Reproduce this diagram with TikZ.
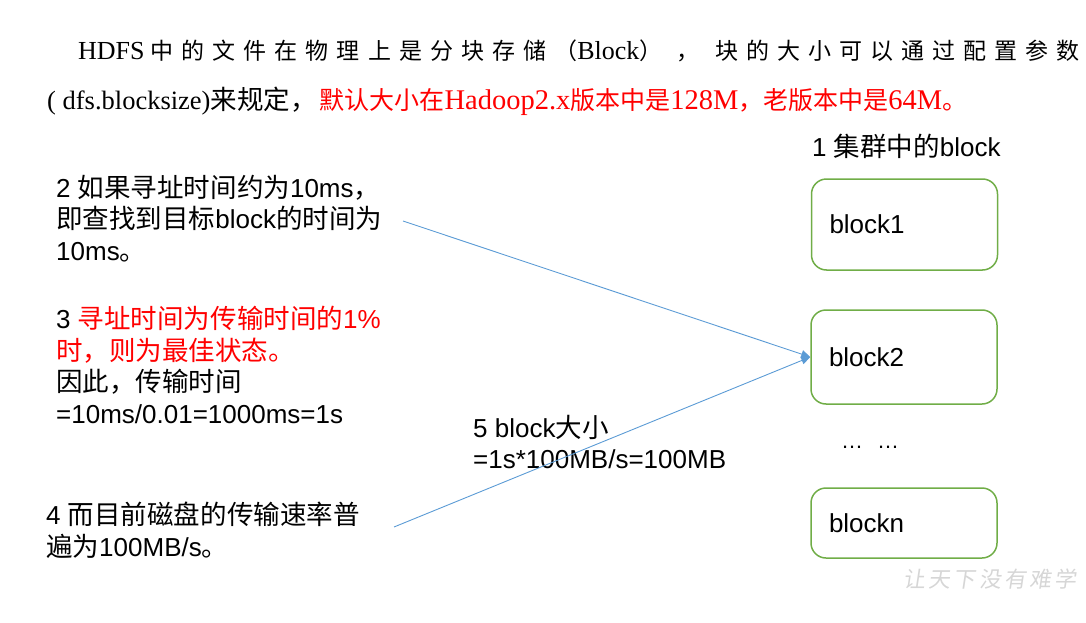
\documentclass[tikz,border=0pt]{standalone}
\usepackage{fontspec}
\setmainfont{Liberation Sans}
\newfontfamily\zh[Scale=1.02]{Noto Sans CJK SC}
\newfontfamily\hdserif{Liberation Serif}
\newfontfamily\hdzh[LetterSpace=35]{Noto Sans CJK SC}
\newfontfamily\wmfont[FakeSlant=0.15,LetterSpace=15]{Noto Sans CJK SC}
\usetikzlibrary{arrows.meta}
\definecolor{blkgreen}{HTML}{70AD47}
\definecolor{linkblue}{HTML}{5B9BD5}
\definecolor{hlred}{HTML}{FF0000}
\definecolor{wmgray}{HTML}{D6D6D6}
\newcommand\bodyfont{\fontsize{26}{31.5}\selectfont}
% heading fonts: spaced CJK, serif Latin, plain CJK
\newcommand\hzw{\hdzh\fontsize{23}{30}\selectfont}
\newcommand\hla[1]{\hdserif\fontsize{#1}{30}\selectfont}
\newcommand\hzn[1]{\zh\fontsize{#1}{30}\selectfont}
\tikzset{
  txt/.style={anchor=north west, inner sep=0pt, align=left, font=\bodyfont},
  hdline/.style={anchor=base west, inner sep=0pt, font=\fontsize{26}{30}\selectfont},
  blk/.style={draw=blkgreen, line width=1.5pt, rounded corners=15pt,
    text width=150pt, inner xsep=18pt, inner ysep=0pt, align=left, font=\bodyfont},
  conn/.style={draw=linkblue, line width=0.9pt, -{Triangle[length=9pt,width=8pt]}},
}
\begin{document}
\begin{tikzpicture}[x=1pt, y=-1pt]
  \useasboundingbox (0,0) rectangle (1086,623);

  % heading paragraph
  \node[hdline] (h1) at (78,60)
    {{\hla{26}HDFS}\hspace{6pt}{\hzw 中的文件在物理上是分块存储（}{\hla{26}Block}{\hzw ）}\hspace{14pt}{\hzw ，}\hspace{16pt}{\hzw 块的大小可以通过配置参数}};
  \node[hdline] (h2) at (47,110)
    {{\hla{26.5}( dfs.blocksize)}{\hzn{26}来规定，}\hspace{3pt}\textcolor{hlred}{{\hzn{24.5}默认大小在}{\hla{28.5}Hadoop2.x}{\hzn{24.5}版本中是}{\hla{28.5}128M}{\hzn{24.5}，老版本中是}{\hla{28.5}64M}{\hzn{24.5}。}}};

  % left column notes
  \node[txt] (t2) at (56,175)
    {2 {\zh 如果寻址时间约为}10ms{\zh ，}\\{\zh 即查找到目标}block{\zh 的时间为}\\10ms{\zh 。}};
  \node[txt] (t3) at (56,306)
    {3 \textcolor{hlred}{{\zh 寻址时间为传输时间的}1\%}\\\textcolor{hlred}{\zh 时，则为最佳状态。}\\{\zh 因此，传输时间}\\=10ms/0.01=1000ms=1s};
  \node[txt] (t4) at (46,502)
    {4 {\zh 而目前磁盘的传输速率普}\\{\zh 遍为}100MB/s{\zh 。}};
  \node[txt] (t5) at (473,415)
    {5 block{\zh 大小}\\=1s*100MB/s=100MB};

  % blocks of the cluster
  \node[txt] (t1) at (812,134) {1 {\zh 集群中的}block};
  \node[blk, minimum height=91pt] (b1) at (904.5,224.5) {block1};
  \node[blk, minimum height=94pt] (b2) at (904,357) {block2};
  \node[anchor=base west, inner sep=0pt, font=\fontsize{22}{26}\selectfont] (dots) at (841,448) {…\hspace{14pt}…};
  \node[blk, minimum height=70pt] (bn) at (904,523) {blockn};

  % connectors
  \coordinate (s1) at (403,221);
  \coordinate (s2) at (394,527);
  \draw[conn] (s1) -- (b2.west);
  \draw[conn] (s2) -- (b2.west);

  % watermark
  \node[anchor=west, inner sep=0pt, text=wmgray, font=\wmfont\fontsize{22}{26}\selectfont] (wm) at (903,579) {让天下没有难学};
\end{tikzpicture}
\end{document}
